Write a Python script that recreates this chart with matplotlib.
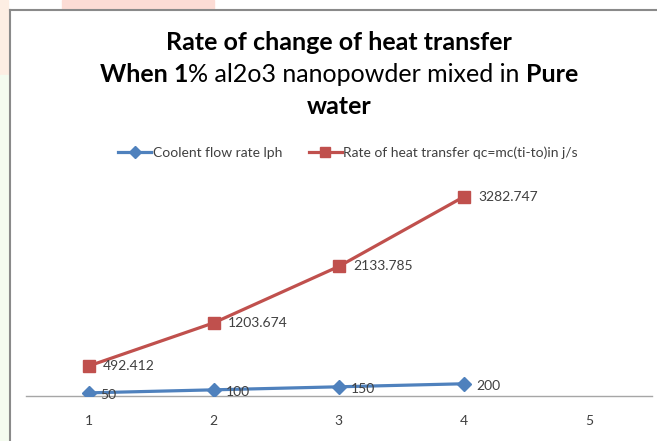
import matplotlib
matplotlib.use('Agg')
import matplotlib.pyplot as plt
from matplotlib.lines import Line2D
from matplotlib.patches import Rectangle

FONT = 'Lato'
plt.rcParams['font.family'] = [FONT, 'DejaVu Sans']

# data
points = [1, 2, 3, 4]
flow_rate = [50, 100, 150, 200]
heat_rate = [492.412, 1203.674, 2133.785, 3282.747]
x_ticks = [1, 2, 3, 4, 5]
flow_name = 'Coolent flow rate lph'
heat_name = 'Rate of heat transfer qc=mc(ti-to)in j/s'

blue = '#4F81BD'
red = '#C0504D'

W, H = 657, 441
fig = plt.figure(figsize=(W / 100, H / 100), dpi=100)
fig.patch.set_facecolor('white')

# faint watermark colours outside the chart frame
fig.patches.append(Rectangle((62 / W, 1 - 9 / H), 152 / W, 9 / H, transform=fig.transFigure,
                             color='#fcdcd5', zorder=0))
fig.patches.append(Rectangle((0, 1 - 75 / H), 8 / W, 75 / H, transform=fig.transFigure,
                             color='#fdeee3', zorder=0))
fig.patches.append(Rectangle((0, 0), 8 / W, 1 - 75 / H, transform=fig.transFigure,
                             color='#f4fbef', zorder=0))

# chart frame (only top and left edges visible)
fig.add_artist(Line2D([9.5 / W, 9.5 / W], [0, 1 - 9.5 / H], transform=fig.transFigure,
                      color='#8a8a8a', lw=1.5))
fig.add_artist(Line2D([9.5 / W, 1], [1 - 9.5 / H, 1 - 9.5 / H], transform=fig.transFigure,
                      color='#8a8a8a', lw=1.5))

ax = fig.add_axes([26 / W, 45.1 / H, 625.7 / W, 212.4 / H])
ax.set_facecolor('none')
ax.plot(points, flow_rate, color=blue, lw=2.3, marker='D', ms=7.5, label=flow_name, zorder=3)
ax.plot(points, heat_rate, color=red, lw=2.3, marker='s', ms=8.3, label=heat_name, zorder=3)

for x, v in zip(points, flow_rate):
    ax.annotate(f'{v:g}', (x, v), xytext=(12, -2), textcoords='offset pixels',
                va='center', ha='left', fontsize=10, color='#404040')
for x, v in zip(points, heat_rate):
    ax.annotate(f'{v:.3f}', (x, v), xytext=(14, 0), textcoords='offset pixels',
                va='center', ha='left', fontsize=10, color='#404040')

ax.set_xlim(0.5, 5.5)
ax.set_ylim(0, 3500)
ax.set_xticks(x_ticks)
ax.tick_params(axis='x', length=0, pad=13.5, labelsize=10, labelcolor='#404040')
ax.set_yticks([])
for s in ['top', 'right', 'left']:
    ax.spines[s].set_visible(False)
ax.spines['bottom'].set_color('#a6a6a6')
ax.spines['bottom'].set_linewidth(1)

leg = ax.legend(loc='center', bbox_to_anchor=(348 / W, 1 - 153 / H),
                bbox_transform=fig.transFigure, ncol=2, frameon=False, fontsize=10,
                handlelength=2.4, handletextpad=0.1, columnspacing=1.9, markerscale=0.85)
for t in leg.get_texts():
    t.set_color('#404040')

# title with mixed bold / regular pieces
title_lines = [
    (1 - 42 / H, [('Rate of change of heat transfer', 'bold')]),
    (1 - 75 / H, [('When ', 'bold'), ('1', 'bold'), ('% al2o3 nanopowder mixed in ', 'normal'),
                  ('Pure', 'bold')]),
    (1 - 107 / H, [('water', 'bold')]),
]
fig.canvas.draw()
renderer = fig.canvas.get_renderer()
for y, parts in title_lines:
    texts = [fig.text(0, y, s, fontsize=18, fontweight=w, va='center', ha='left', color='black')
             for s, w in parts]
    widths = [t.get_window_extent(renderer).width for t in texts]
    x = 339 - sum(widths) / 2
    for t, w in zip(texts, widths):
        t.set_x(x / W)
        x += w

fig.savefig('out.png', dpi=100)
